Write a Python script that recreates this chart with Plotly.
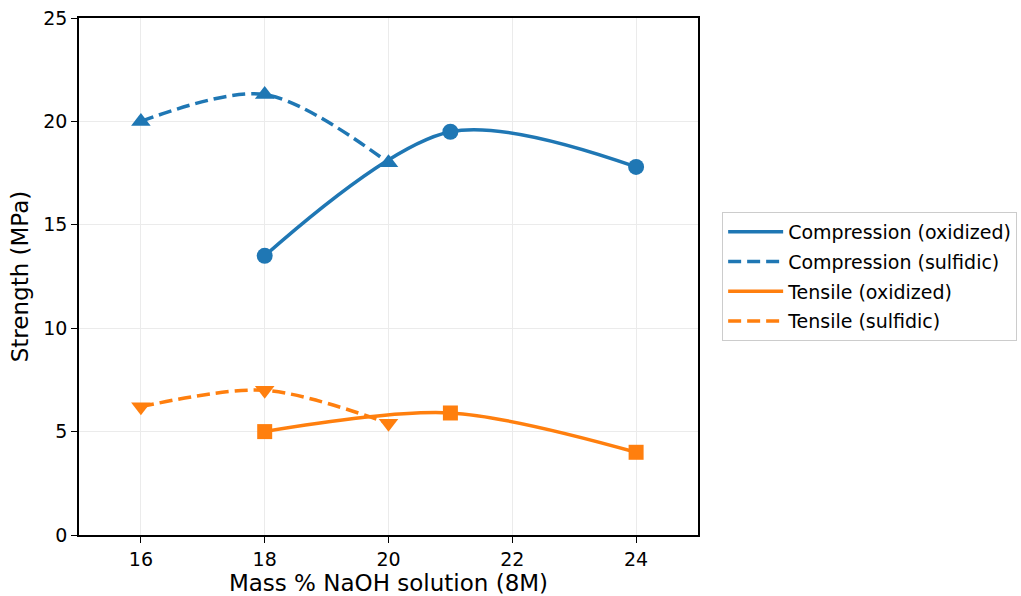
import plotly.graph_objects as go

# Data
comp_ox_x = [18, 21, 24]
comp_ox_y = [13.5, 19.5, 17.8]
comp_sul_x = [16, 18, 20]
comp_sul_y = [20.0, 21.3, 18.0]
ten_ox_x = [18, 21, 24]
ten_ox_y = [5.0, 5.9, 4.0]
ten_sul_x = [16, 18, 20]
ten_sul_y = [6.2, 7.0, 5.4]

names = ["Compression (oxidized)", "Compression (sulfidic)",
         "Tensile (oxidized)", "Tensile (sulfidic)"]
x_ticks = [16, 18, 20, 22, 24]
y_ticks = [0, 5, 10, 15, 20, 25]

BLUE = "#1f77b4"
ORANGE = "#ff7f0e"
DASH = "13px,6px"

series = [
    (comp_ox_x, comp_ox_y, names[0], BLUE, "solid", "circle", 16),
    (comp_sul_x, comp_sul_y, names[1], BLUE, DASH, "triangle-up", 17),
    (ten_ox_x, ten_ox_y, names[2], ORANGE, "solid", "square", 15),
    (ten_sul_x, ten_sul_y, names[3], ORANGE, DASH, "triangle-down", 17),
]

fig = go.Figure()
for i, (xs, ys, nm, col, dash, sym, ms) in enumerate(series):
    fig.add_trace(go.Scatter(
        x=xs, y=ys, mode="lines", name=nm, legendgroup=f"g{i}",
        line=dict(color=col, width=3.5, dash=dash, shape="spline", smoothing=0.9),
    ))
for i, (xs, ys, nm, col, dash, sym, ms) in enumerate(series):
    fig.add_trace(go.Scatter(
        x=xs, y=ys, mode="markers", showlegend=False, name=nm, legendgroup=f"g{i}",
        marker=dict(color=col, symbol=sym, size=ms, line=dict(width=0)),
    ))

axis_common = dict(
    showgrid=True, gridcolor="#ebebeb", gridwidth=1,
    showline=True, linecolor="black", linewidth=1.5, mirror=True,
    ticks="outside", ticklen=6, tickwidth=1.2, tickcolor="black",
    tickfont=dict(family="DejaVu Sans", size=19, color="black"),
    zeroline=False, automargin=False,
)

fig.update_layout(
    width=1021, height=596,
    margin=dict(l=79, r=323, t=18, b=61, autoexpand=False),
    paper_bgcolor="white", plot_bgcolor="white",
    font=dict(family="DejaVu Sans", color="black"),
    xaxis=dict(range=[15, 25], tickvals=x_ticks,
               title=dict(text="Mass % NaOH solution (8M)", font=dict(size=23), standoff=4),
               **axis_common),
    yaxis=dict(range=[0, 25], tickvals=y_ticks,
               title=dict(text="Strength (MPa)", font=dict(size=23), standoff=8),
               **axis_common),
    legend=dict(x=1.039, y=0.5, xanchor="left", yanchor="middle",
                font=dict(family="DejaVu Sans", size=19, color="black"),
                bordercolor="#cccccc", borderwidth=1, bgcolor="white",
                traceorder="grouped", tracegroupgap=2, itemwidth=55),
    showlegend=True,
)

fig.write_html("out.html")
